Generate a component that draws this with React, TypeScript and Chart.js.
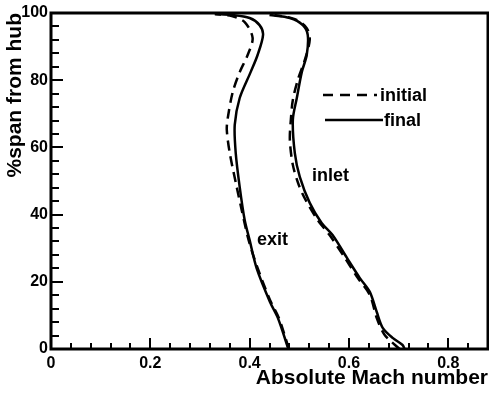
import React, { useEffect, useRef } from "react";
import { Chart, registerables } from "chart.js";

Chart.register(...registerables);

// Absolute Mach number (x) vs % span from hub (y)
const exitInitialMach = [0.479, 0.459, 0.441, 0.416, 0.398, 0.384, 0.374, 0.36, 0.354, 0.356, 0.366, 0.38, 0.396, 0.406, 0.39, 0.364, 0.33];
const exitInitialSpan = [0, 9.2, 14.6, 24.1, 32.4, 41.4, 48.2, 58.3, 65.2, 68.8, 76.5, 82.4, 87.5, 92.6, 97.3, 99.1, 99.7];

const exitFinalMach = [0.478, 0.457, 0.441, 0.414, 0.4, 0.39, 0.38, 0.372, 0.37, 0.38, 0.402, 0.416, 0.427, 0.42, 0.4, 0.364, 0.33];
const exitFinalSpan = [0, 9.2, 14.0, 24.1, 32.4, 38.4, 48.2, 58.3, 66.7, 74.7, 82.4, 87.5, 93.5, 96.4, 98.5, 99.4, 99.7];

const inletInitialMach = [0.702, 0.672, 0.656, 0.642, 0.618, 0.592, 0.561, 0.537, 0.513, 0.499, 0.487, 0.481, 0.483, 0.487, 0.497, 0.511, 0.521, 0.515, 0.491, 0.45];
const inletInitialSpan = [0, 4.2, 9.2, 16.1, 21.1, 27.1, 33.9, 38.4, 44.3, 48.8, 54.8, 62.2, 68.2, 74.1, 80.1, 86.0, 92.0, 95.5, 98.2, 99.4];

const inletFinalMach = [0.712, 0.708, 0.688, 0.668, 0.656, 0.642, 0.622, 0.596, 0.567, 0.545, 0.521, 0.501, 0.491, 0.487, 0.495, 0.505, 0.515, 0.517, 0.507, 0.481, 0.44];
const inletFinalSpan = [0, 1.2, 3.3, 6.3, 11.0, 17.0, 21.1, 27.1, 33.9, 37.5, 43.5, 51.2, 58.3, 68.2, 74.7, 82.4, 87.5, 93.5, 96.4, 98.5, 99.4];

const xMin = 0;
const xMax = 0.88;
const xStep = 0.2;
const xMinorStep = 0.04;
const yMin = 0;
const yMax = 100;
const yStep = 20;
const yMinorStep = 4;

const legendLabels = ["initial", "final"];
const curveLabels = ["inlet", "exit"];
const xTitle = "Absolute Mach number";
const yTitle = "%span from hub";

const FONT = "'Liberation Sans', Arial, Helvetica, sans-serif";

const toPoints = (xs: number[], ys: number[]) => xs.map((x, i) => ({ x, y: ys[i] }));

const decorPlugin = {
  id: "decor",
  afterDraw(chart: any) {
    const { ctx, chartArea: a, scales } = chart;
    const xs = scales.x;
    const ys = scales.y;
    ctx.save();
    ctx.strokeStyle = "#000";
    ctx.fillStyle = "#000";
    ctx.lineCap = "butt";

    // inward ticks on left axis
    ctx.lineWidth = 2;
    for (let v = yMin; v <= yMax + 1e-9; v += yMinorStep) {
      const py = Math.round(ys.getPixelForValue(v)) + 0.0;
      const major = Math.abs(v / yStep - Math.round(v / yStep)) < 1e-6;
      const len = major ? 12 : 8;
      ctx.beginPath();
      ctx.moveTo(a.left, py);
      ctx.lineTo(a.left + len, py);
      ctx.stroke();
    }
    // inward ticks on bottom axis
    for (let v = xMin; v <= xMax + 1e-9; v += xMinorStep) {
      const px = Math.round(xs.getPixelForValue(v));
      const major = Math.abs(v / xStep - Math.round(v / xStep)) < 1e-6;
      const len = major ? 11 : 6;
      ctx.beginPath();
      ctx.moveTo(px, a.bottom);
      ctx.lineTo(px, a.bottom - len);
      ctx.stroke();
    }

    // frame
    ctx.lineWidth = 3;
    ctx.strokeRect(a.left, a.top, a.right - a.left, a.bottom - a.top);

    // legend
    const lx = a.left + 272;
    const ly1 = a.top + 82;
    const ly2 = a.top + 107;
    ctx.lineWidth = 2.5;
    ctx.setLineDash([10, 7]);
    ctx.beginPath();
    ctx.moveTo(lx, ly1);
    ctx.lineTo(lx + 54, ly1);
    ctx.stroke();
    ctx.setLineDash([]);
    ctx.beginPath();
    ctx.moveTo(lx + 2, ly2);
    ctx.lineTo(lx + 60, ly2);
    ctx.stroke();

    ctx.font = `bold 18px ${FONT}`;
    ctx.textAlign = "left";
    ctx.textBaseline = "middle";
    ctx.fillText(legendLabels[0], lx + 57, ly1 + 1);
    ctx.fillText(legendLabels[1], lx + 61, ly2 + 1);

    // curve labels
    ctx.fillText(curveLabels[0], a.left + 261, a.top + 163);
    ctx.fillText(curveLabels[1], a.left + 206, a.top + 227);

    ctx.restore();
  },
};

export default function App() {
  const ref = useRef<HTMLCanvasElement | null>(null);

  useEffect(() => {
    if (!ref.current) return;
    const solid = { borderColor: "#000", borderWidth: 2.5, pointRadius: 0, tension: 0.3, fill: false };
    const dashed = { ...solid, borderDash: [10, 6] };
    const chart = new Chart(ref.current, {
      type: "line",
      data: {
        datasets: [
          { label: "exit initial", data: toPoints(exitInitialMach, exitInitialSpan), ...dashed },
          { label: "inlet initial", data: toPoints(inletInitialMach, inletInitialSpan), ...dashed },
          { label: "exit final", data: toPoints(exitFinalMach, exitFinalSpan), ...solid },
          { label: "inlet final", data: toPoints(inletFinalMach, inletFinalSpan), ...solid },
        ],
      },
      options: {
        responsive: false,
        animation: false,
        layout: { padding: { left: 0, right: 1, top: 13, bottom: 0 } },
        plugins: { legend: { display: false }, tooltip: { enabled: false } },
        scales: {
          x: {
            type: "linear",
            min: xMin,
            max: xMax,
            grid: { display: false, drawTicks: false },
            border: { display: false },
            ticks: {
              stepSize: xStep,
              includeBounds: false,
              padding: 5,
              color: "#000",
              font: { family: FONT, size: 16, weight: "bold" },
              maxRotation: 0,
            },
            title: {
              display: true,
              text: xTitle,
              align: "end",
              color: "#000",
              font: { family: FONT, size: 21, weight: "bold" },
              padding: { top: 0, bottom: 4 },
            },
            afterFit: (s: any) => {
              s.height = 46;
            },
          },
          y: {
            type: "linear",
            min: yMin,
            max: yMax,
            grid: { display: false, drawTicks: false },
            border: { display: false },
            ticks: {
              stepSize: yStep,
              padding: 3,
              color: "#000",
              font: { family: FONT, size: 16, weight: "bold" },
            },
            title: {
              display: true,
              text: yTitle,
              align: "end",
              color: "#000",
              font: { family: FONT, size: 21, weight: "bold" },
              padding: { top: 3, bottom: 0 },
            },
            afterFit: (s: any) => {
              s.width = 51;
            },
          },
        },
      } as any,
      plugins: [decorPlugin],
    });
    return () => chart.destroy();
  }, []);

  return (
    <div style={{ position: "absolute", left: 0, top: 0, width: 489, height: 395, background: "#fff" }}>
      <canvas ref={ref} width={489} height={395} />
    </div>
  );
}
